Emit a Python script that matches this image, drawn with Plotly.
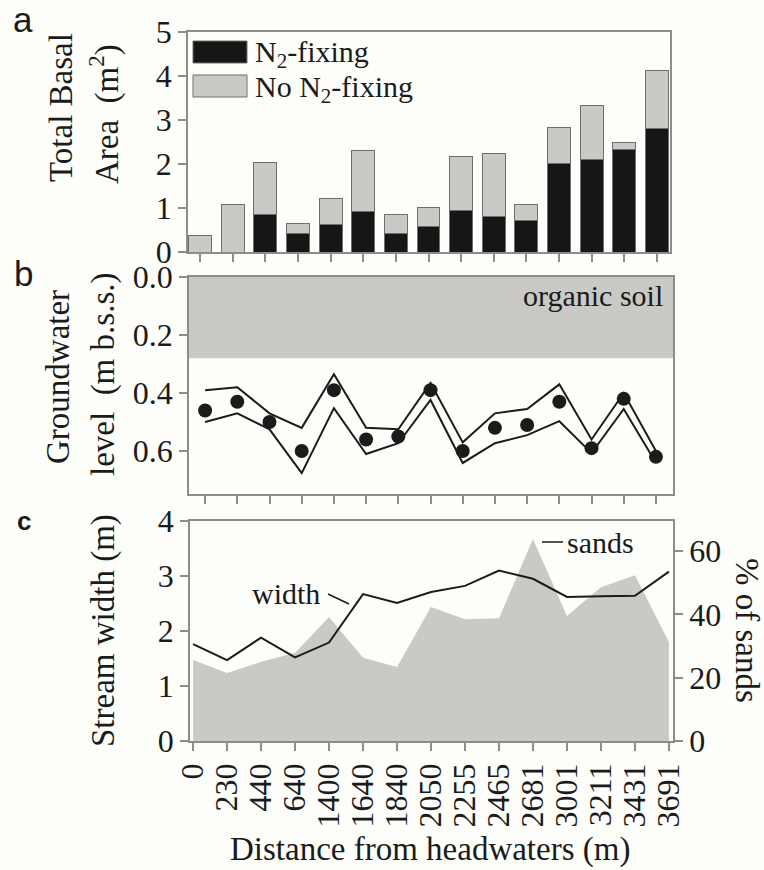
import plotly.graph_objects as go

# ---- data -------------------------------------------------------------
distance_labels = ["0", "230", "440", "640", "1400", "1640", "1840", "2050",
                   "2255", "2465", "2681", "3001", "3211", "3431", "3691"]

# total basal area split into N2-fixing and non-fixing trees (m2)
basal_fixing = [0.0, 0.0, 0.85, 0.43, 0.62, 0.92, 0.43, 0.58,
                0.95, 0.80, 0.72, 2.02, 2.11, 2.34, 2.80]
basal_nonfixing = [0.37, 1.09, 1.19, 0.21, 0.59, 1.38, 0.42, 0.44,
                   1.21, 1.43, 0.36, 0.82, 1.23, 0.15, 1.33]

# groundwater level (m below soil surface): mean and envelope
gw_mean = [0.46, 0.43, 0.50, 0.60, 0.39, 0.56, 0.55, 0.39,
           0.60, 0.52, 0.51, 0.43, 0.59, 0.42, 0.62]
gw_upper = [0.39, 0.38, 0.47, 0.52, 0.335, 0.52, 0.525, 0.365,
            0.57, 0.47, 0.455, 0.37, 0.56, 0.40, 0.60]
gw_lower = [0.50, 0.47, 0.525, 0.676, 0.452, 0.61, 0.573, 0.424,
            0.641, 0.573, 0.545, 0.497, 0.607, 0.455, 0.64]
organic_soil_depth = 0.28

# stream width (m) and sand fraction of sediments (%)
stream_width = [1.76, 1.47, 1.88, 1.52, 1.79, 2.67, 2.51, 2.71,
                2.82, 3.10, 2.95, 2.62, 2.63, 2.64, 3.08]
sands_pct = [25.6, 21.5, 25.0, 27.8, 39.2, 26.3, 23.4, 42.3,
             38.5, 38.8, 63.8, 39.5, 48.6, 52.4, 31.3]

idx = list(range(len(distance_labels)))

# ---- styling ----------------------------------------------------------
W, H = 764, 870
SERIF = "Liberation Serif"
SANS = "Liberation Sans"
INK = "#1b1b1b"
AXIS = "#8c8c8c"
FILL = "#c9c9c5"
BLACK = "#161616"
BG = "#fdfdfa"


def px_x(p):
    return p / W


def px_y(p):
    return 1 - p / H


fig = go.Figure()

# panel a: stacked basal area bars
fig.add_trace(go.Bar(x=idx, y=basal_fixing, xaxis="x", yaxis="y",
                     marker=dict(color=BLACK, line=dict(color="#6e6e6e", width=1)),
                     width=0.7, name="N2-fixing"))
fig.add_trace(go.Bar(x=idx, y=basal_nonfixing, xaxis="x", yaxis="y",
                     marker=dict(color=FILL, line=dict(color="#6e6e6e", width=1)),
                     width=0.7, name="No N2-fixing"))

# panel b: groundwater envelope and mean
for band in (gw_upper, gw_lower):
    fig.add_trace(go.Scatter(x=idx, y=band, xaxis="x2", yaxis="y2", mode="lines",
                             line=dict(color=INK, width=2)))
fig.add_trace(go.Scatter(x=idx, y=gw_mean, xaxis="x2", yaxis="y2", mode="markers",
                         marker=dict(color=INK, size=14)))

# panel c: sand area (right axis) under the width line (left axis)
fig.add_trace(go.Scatter(x=idx, y=sands_pct, xaxis="x3", yaxis="y3", mode="lines",
                         fill="tozeroy", fillcolor=FILL, line=dict(width=0, color=FILL)))
fig.add_trace(go.Scatter(x=idx, y=stream_width, xaxis="x3", yaxis="y4", mode="lines",
                         line=dict(color=INK, width=2)))

tickfont = dict(family=SERIF, size=32, color=INK)
common = dict(showline=True, linecolor=AXIS, linewidth=1.5, mirror=True,
              showgrid=False, zeroline=False, ticks="outside", ticklen=8,
              tickcolor=AXIS, tickwidth=1.5, tickfont=tickfont, automargin=False)

fig.update_layout(
    width=W, height=H, autosize=False,
    margin=dict(l=0, r=0, t=0, b=0, pad=0, autoexpand=False),
    paper_bgcolor=BG, plot_bgcolor=BG,
    showlegend=False, barmode="stack", bargap=0.3,
    xaxis=dict(domain=[px_x(188), px_x(670)], range=[-0.37, 14.4],
               tickvals=idx, showticklabels=False, anchor="y", **common),
    yaxis=dict(domain=[px_y(252), px_y(32)], range=[0, 5], tickvals=[0, 1, 2, 3, 4, 5],
               anchor="x", **common),
    xaxis2=dict(domain=[px_x(189), px_x(673)], range=[-0.5, 14.53],
                tickvals=idx, showticklabels=False, anchor="y2", **common),
    yaxis2=dict(domain=[px_y(494), px_y(277)], range=[0.748, 0],
                tickvals=[0, 0.2, 0.4, 0.6], ticktext=["0.0", "0.2", "0.4", "0.6"],
                anchor="x2", **common),
    xaxis3=dict(domain=[px_x(190), px_x(673)], range=[-0.09, 14.12],
                tickvals=idx, ticktext=distance_labels, tickangle=-90,
                anchor="y3", **common),
    yaxis3=dict(domain=[px_y(741), px_y(521)], range=[0, 69.5], tickvals=[0, 20, 40, 60],
                side="right", anchor="x3", **common),
    yaxis4=dict(range=[0, 4], tickvals=[0, 1, 2, 3, 4], overlaying="y3", side="left",
                anchor="x3", showline=True, linecolor=AXIS, linewidth=1.5,
                showgrid=False, zeroline=False, ticks="outside", ticklen=8,
                tickcolor=AXIS, tickwidth=1.5, tickfont=tickfont, automargin=False),
)

# organic soil layer
fig.add_shape(type="rect", xref="x2 domain", yref="y2", x0=0, x1=1,
              y0=0, y1=organic_soil_depth, fillcolor=FILL, line=dict(width=0),
              layer="below")

# legend swatches
for (y0, y1, fill) in [(41, 63, BLACK), (75, 97, FILL)]:
    fig.add_shape(type="rect", xref="paper", yref="paper",
                  x0=px_x(193), x1=px_x(247), y0=px_y(y1), y1=px_y(y0),
                  fillcolor=fill, line=dict(color="#6e6e6e", width=1))

# leader lines for the series labels
for (x0, y0, x1, y1) in [(328, 594, 349, 604), (542, 542, 563, 542)]:
    fig.add_shape(type="line", xref="paper", yref="paper",
                  x0=px_x(x0), y0=px_y(y0), x1=px_x(x1), y1=px_y(y1),
                  line=dict(color=INK, width=1.5))


def label(text, x, y, size=30, xanchor="center", yanchor="middle", angle=0,
          family=SERIF, bold=False):
    if bold:
        text = "<b>" + text + "</b>"
    fig.add_annotation(text=text, xref="paper", yref="paper", x=px_x(x), y=px_y(y),
                       xanchor=xanchor, yanchor=yanchor, textangle=angle,
                       showarrow=False, borderpad=0,
                       font=dict(family=family, size=size, color=INK))


label("N<sub>2</sub>-fixing", 254, 54, xanchor="left")
label("No N<sub>2</sub>-fixing", 254, 89, xanchor="left")
label("organic soil", 664, 295, xanchor="right")
label("width", 321, 593, xanchor="right")
label("sands", 566, 542, xanchor="left")

# panel letters
label("a", 23, 20, size=35, family=SANS)
label("b", 23, 273, size=35, family=SANS)
label("c", 24, 521, size=26, family=SANS, bold=True)

# axis titles
label("Total Basal", 61, 108, size=33, angle=-90)
label("Area  (m<sup>2</sup>)", 104, 114, size=33, angle=-90)
label("Groundwater", 58, 377, size=33, angle=-90)
label("level  (m b.s.s.)", 103, 374, size=33, angle=-90)
label("Stream width (m)", 103, 630, size=33, angle=-90)
label("% of sands", 747, 630, size=33, angle=90)
label("Distance from headwaters (m)", 430, 869, size=33, yanchor="bottom")

fig.write_html("out.html")
